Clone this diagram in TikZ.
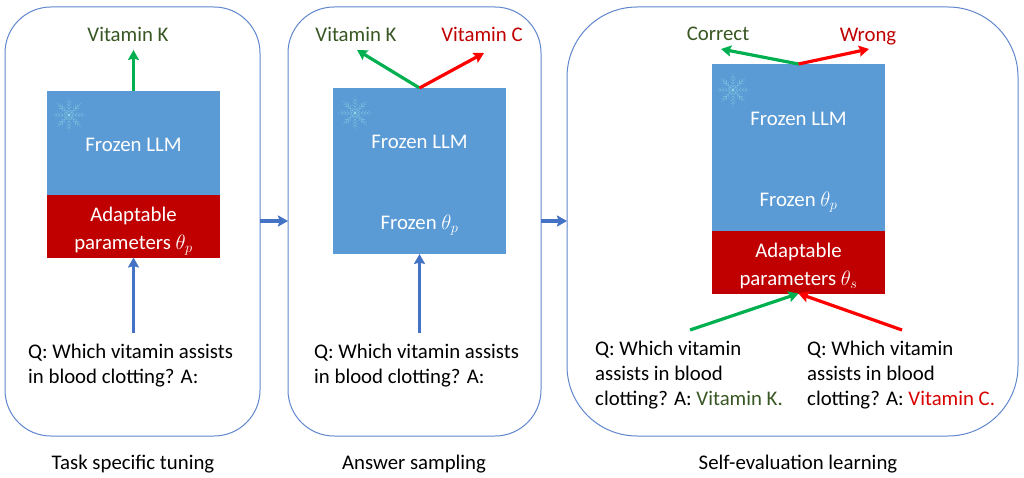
\documentclass[tikz,border=0pt]{standalone}
\usepackage{fontspec}
\setmainfont{Carlito}
\definecolor{panelblue}{HTML}{4472C4}
\definecolor{llmblue}{HTML}{5B9BD5}
\definecolor{adaptred}{HTML}{C00000}
\definecolor{rightgreen}{HTML}{00B050}
\definecolor{wrongred}{HTML}{FF0000}
\definecolor{textgreen}{HTML}{385723}
\definecolor{flake}{HTML}{8FD6E4}
\usetikzlibrary{arrows.meta}
\tikzset{
  panel/.style={draw=panelblue!85!white, line width=1pt, fill=white},
  llmbox/.style={fill=llmblue, minimum width=173pt, inner sep=0pt, outer sep=0pt},
  adaptbox/.style={fill=adaptred, minimum width=173pt, minimum height=62.5pt, inner sep=0pt, outer sep=0pt},
  boxtext/.style={text=white, inner sep=0pt, align=center},
  qtext/.style={inner sep=0pt, anchor=north west, align=left},
  flow/.style={-{Stealth[length=10pt,width=11pt,inset=1.5pt]}, line width=3.2pt},
  bluearrow/.style={flow, draw=panelblue},
  greenarrow/.style={flow, draw=rightgreen},
  redarrow/.style={flow, draw=wrongred},
  pics/snowflake/.style={code={
    \foreach \a in {0,45,...,315} {
      \draw[flake, opacity=0.7, line width=0.3pt, rotate=\a] (0,0) -- (17pt,0)
        (12pt,0) -- (14pt,2pt) (12pt,0) -- (14pt,-2pt)
        (9pt,0) -- (11.5pt,2.5pt) (9pt,0) -- (11.5pt,-2.5pt)
        (6pt,0) -- (8.5pt,2.5pt) (6pt,0) -- (8.5pt,-2.5pt)
        (3pt,0) -- (5pt,2pt) (3pt,0) -- (5pt,-2pt);
    }
    \fill[flake] (0,0) circle (1.6pt);
  }}
}
\begin{document}
\begin{tikzpicture}[x=1pt, y=-1pt, font=\fontsize{20.8}{25}\selectfont]
  \useasboundingbox (0,0) rectangle (1024,478);

  % Rounded panels
  \draw[panel, rounded corners=46pt] (5,7) rectangle (260,436);
  \draw[panel, rounded corners=46pt] (288,7) rectangle (541,436);
  \draw[panel, rounded corners=70pt] (567,7) rectangle (1018,436);

  % Task specific tuning
  \node[llmbox, minimum height=104pt, anchor=north] (llmA) at (133.5,91) {};
  \node[adaptbox, anchor=north] (adaptA) at (133.5,195) {};
  \node[boxtext] (frozenA) at (133.5,145) {Frozen LLM};
  \node[boxtext] (paramA) at (133.5,231) {Adaptable\\[3pt]parameters $\theta_p$};
  \pic at (69,115) {snowflake};
  \node[text=textgreen, inner sep=0pt] (ansA) at (128,34) {Vitamin K};
  \coordinate (tipA) at (133.5,50);
  \coordinate (startA) at (133.5,333);
  \node[qtext] (questA) at (28,344) {Q: Which vitamin assists\\in blood clotting? A:};
  \node[inner sep=0pt] (capA) at (133,464) {Task specific tuning};
  \draw[greenarrow] (llmA.north) -- (tipA);
  \draw[bluearrow] (startA) -- (adaptA.south);

  % Answer sampling
  \node[llmbox, minimum height=166pt, anchor=north] (llmB) at (419.5,88) {};
  \node[boxtext] (frozenB) at (419.5,142) {Frozen LLM};
  \node[boxtext] (thetaB) at (419.5,225) {Frozen $\theta_p$};
  \pic at (355,113) {snowflake};
  \node[text=textgreen, inner sep=0pt] (ansK) at (356,34) {Vitamin K};
  \node[text=adaptred, inner sep=0pt] (ansC) at (482,34) {Vitamin C};
  \coordinate (tipK) at (357,50);
  \coordinate (tipC) at (484,53);
  \coordinate (startB) at (419.5,333);
  \node[qtext] (questB) at (314,344) {Q: Which vitamin assists\\in blood clotting? A:};
  \node[inner sep=0pt] (capB) at (414,464) {Answer sampling};
  \draw[greenarrow] (llmB.north) -- (tipK);
  \draw[redarrow] (llmB.north) -- (tipC);
  \draw[bluearrow] (startB) -- (llmB.south);

  % Self-evaluation learning
  \node[llmbox, minimum height=167pt, anchor=north] (llmC) at (798.5,64) {};
  \node[adaptbox, anchor=north] (adaptC) at (798.5,231) {};
  \node[boxtext] (frozenC) at (798.5,119) {Frozen LLM};
  \node[boxtext] (thetaC) at (798.5,202) {Frozen $\theta_p$};
  \node[boxtext] (paramC) at (798.5,266) {Adaptable\\[3pt]parameters $\theta_s$};
  \pic at (733,90) {snowflake};
  \node[text=textgreen, inner sep=0pt] (ansR) at (718,34) {Correct};
  \node[text=adaptred, inner sep=0pt] (ansW) at (868,37) {Wrong};
  \coordinate (tipR) at (721,49);
  \coordinate (tipW) at (869,49);
  \coordinate (startR) at (690,330);
  \coordinate (startW) at (902,330);
  \node[qtext] (questR) at (595,341) {Q: Which vitamin\\assists in blood\\clotting? A: \textcolor{textgreen}{Vitamin K.}};
  \node[qtext] (questW) at (807,341) {Q: Which vitamin\\assists in blood\\clotting? A: \textcolor{wrongred!85!black}{Vitamin C.}};
  \node[inner sep=0pt] (capC) at (798,464) {Self-evaluation learning};
  \draw[greenarrow] (llmC.north) -- (tipR);
  \draw[redarrow] (llmC.north) -- (tipW);
  \draw[greenarrow] (startR) -- (adaptC.south);
  \draw[redarrow] (startW) -- (adaptC.south);

  % Arrows between panels
  \coordinate (outA) at (260,221);
  \coordinate (inB) at (288,221);
  \coordinate (outB) at (541,221);
  \coordinate (inC) at (567,221);
  \draw[bluearrow] (outA) -- (inB);
  \draw[bluearrow] (outB) -- (inC);
\end{tikzpicture}
\end{document}
